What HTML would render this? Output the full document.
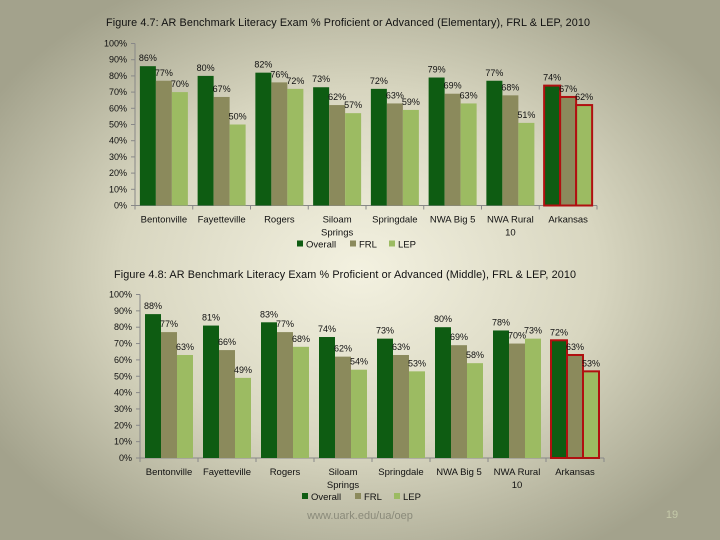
<!DOCTYPE html>
<html><head><meta charset="utf-8"><style>
html,body{margin:0;padding:0}
body{width:720px;height:540px;overflow:hidden;background:radial-gradient(ellipse 60% 60% at 50% 50%,#f3f1e0 0%,#d8d6c0 55%,#a3a28c 100%);font-family:"Liberation Sans",sans-serif}
svg{position:absolute;left:0;top:0}
</style></head><body>
<svg id="s" width="720" height="540">
<text x="106" y="26" font-size="10.8" fill="#111" textLength="484">Figure 4.7: AR Benchmark Literacy Exam % Proficient or Advanced (Elementary), FRL &amp; LEP, 2010</text>
<text x="114" y="278" font-size="10.8" fill="#111" textLength="462">Figure 4.8: AR Benchmark Literacy Exam % Proficient or Advanced (Middle), FRL &amp; LEP, 2010</text>
<text x="360" y="519" font-size="11" fill="#8a8a7a" text-anchor="middle">www.uark.edu/ua/oep</text>
<text x="672" y="518" font-size="11" fill="#c4c9a8" text-anchor="middle">19</text>
</svg>
<script>
const categories=["Bentonville","Fayetteville","Rogers","Siloam|Springs","Springdale","NWA Big 5","NWA Rural|10","Arkansas"];
const series=["Overall","FRL","LEP"];
const elemOverall=[86,80,82,73,72,79,77,74];
const elemFRL=[77,67,76,62,63,69,68,67];
const elemLEP=[70,50,72,57,59,63,51,62];
const midOverall=[88,81,83,74,73,80,78,72];
const midFRL=[77,66,77,62,63,69,70,63];
const midLEP=[63,49,68,54,53,58,73,53];
const yTicks=[0,10,20,30,40,50,60,70,80,90,100];
const colors=["#0e5c12","#8b8a5c","#9cbb62"];
const svg=document.getElementById('s');
const NS="http://www.w3.org/2000/svg";
function mk(tag,attrs){const e=document.createElementNS(NS,tag);for(const k in attrs)e.setAttribute(k,attrs[k]);svg.appendChild(e);return e;}
function chart(id,vals,x0,x1,y0,y100){
  const ys=v=>y0-(y0-y100)*v/100;
  const cw=(x1-x0)/categories.length;
  const ax=mk('line',{x1:x0,y1:y100,x2:x0,y2:y0,stroke:'#888',"stroke-width":1});
  
  
  const bx=mk('line',{x1:x0,y1:y0,x2:x1,y2:y0,stroke:'#888',"stroke-width":1});
  
  
  yTicks.forEach(t=>{
    const l=mk('line',{x1:x0-4,x2:x0,y1:ys(t),y2:ys(t),stroke:'#888'});
    
    
    const tx=mk('text',{x:x0-8,y:ys(t)+3,"font-size":9,"text-anchor":"end",fill:'#111'});
    tx.textContent=t+'%';
    
    
  });
  for(let i=0;i<=categories.length;i++){
    const l=mk('line',{x1:x0+i*cw,x2:x0+i*cw,y1:y0,y2:y0+4,stroke:'#888'});
    
    
  }
  const bw=16,off=(cw-3*bw)/2;
  categories.forEach((c,i)=>{
    vals.forEach((arr,s)=>{
      const v=arr[i];const bxp=x0+i*cw+off+s*bw;
      const last=i===categories.length-1;
      const r=mk('rect',{x:bxp,y:ys(v),width:bw,height:y0-ys(v),fill:colors[s]});
      if(last){r.setAttribute('stroke','#b01010');r.setAttribute('stroke-width',2);}
      
      
      const t=mk('text',{x:bxp+bw/2,y:ys(v)-5,"font-size":9,"text-anchor":"middle",fill:'#111'});
      t.textContent=v+'%';
      
      
    });
    c.split('|').forEach((ln,k)=>{
      const t=mk('text',{x:x0+i*cw+cw/2,y:y0+17+k*13,"font-size":9.5,"text-anchor":"middle",fill:'#111'});
      t.textContent=ln;
      
      
    });
  });
  const lx=[297,350,389];
  series.forEach((s,k)=>{
    const r=mk('rect',{x:lx[k]+(x0-135),y:y0+35,width:6,height:6,fill:colors[k]});
    
    
    const t=mk('text',{x:lx[k]+(x0-135)+9,y:y0+42,"font-size":9.5,fill:'#111'});
    t.textContent=s;
    
    
  });
}
chart('chart-1',[elemOverall,elemFRL,elemLEP],135,597,205.5,43.5);
chart('chart-2',[midOverall,midFRL,midLEP],140,604,458,294.5);
</script>
</body></html>
